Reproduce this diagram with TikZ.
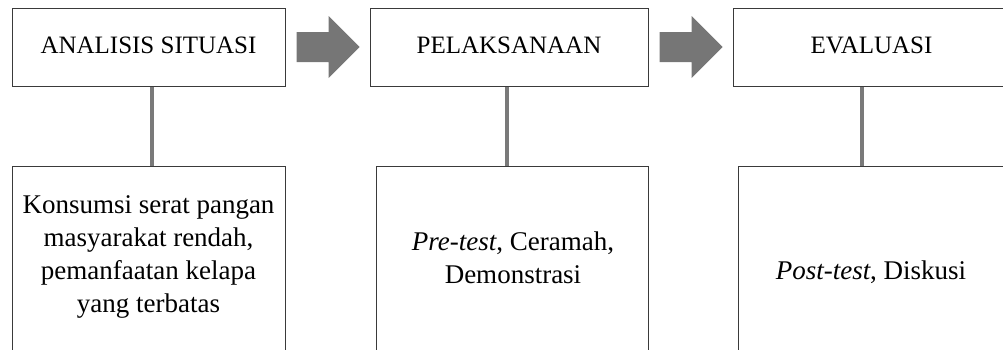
\documentclass[tikz,border=0pt]{standalone}
\usepackage{fontspec}
\setmainfont{Liberation Serif}
\usetikzlibrary{calc}
\definecolor{boxline}{HTML}{3A3A3A}
\definecolor{conngray}{HTML}{7A7A7A}
\definecolor{arrgray}{HTML}{767676}
\tikzset{
  topbox/.style={draw=boxline, line width=1pt, fill=white, minimum height=78pt, inner sep=0pt,
    text height=17pt, text depth=5pt, font=\fontsize{25}{33}\selectfont},
  botbox/.style={draw=boxline, line width=1pt, fill=white, anchor=north, minimum height=260pt, inner sep=0pt},
  txt/.style={align=center, inner sep=0pt, font=\fontsize{27}{33}\selectfont},
  conn/.style={draw=conngray, line width=4.5pt},
  blockarrow/.style={fill=arrgray, draw=none}
}
\begin{document}
\begin{tikzpicture}[x=1pt,y=-1pt]
\useasboundingbox (0,0) rectangle (1003,349);
\clip (0,0) rectangle (1003,349);
% top boxes
\node[topbox, minimum width=273pt] (t1) at (148.5,47) {ANALISIS SITUASI};
\node[topbox, minimum width=278pt] (t2) at (509,47) {PELAKSANAAN};
\node[topbox, minimum width=277pt] (t3) at (871.5,47) {EVALUASI};
% bottom boxes
\node[botbox, minimum width=273pt] (b1) at (148.5,166) {};
\node[botbox, minimum width=272pt] (b2) at (512,166) {};
\node[botbox, minimum width=277pt] (b3) at (876.5,166) {};
% bottom texts
\node[txt] (x1) at (148.5,257) {Konsumsi serat pangan\\masyarakat rendah,\\pemanfaatan kelapa\\yang terbatas};
\node[txt] (x2) at (513,258) {\textit{Pre-test}, Ceramah,\\Demonstrasi};
\node[txt] (x3) at (871,272) {\textit{Post-test}, Diskusi};
% connectors
\draw[conn] ([xshift=3.5pt]t1.south) -- ([xshift=3.5pt]t1.south |- b1.north);
\draw[conn] ([xshift=-2pt]t2.south) -- ([xshift=-2pt]t2.south |- b2.north);
\draw[conn] ([xshift=-9.5pt]t3.south) -- ([xshift=-9.5pt]t3.south |- b3.north);
% block arrows
\fill[blockarrow] ($(t1.east)+(11,-15)$) -- ($(t1.east)+(43,-15)$) -- ($(t1.east)+(43,-31)$)
  -- ($(t1.east)+(74,0)$) -- ($(t1.east)+(43,31)$) -- ($(t1.east)+(43,15)$) -- ($(t1.east)+(11,15)$) -- cycle;
\fill[blockarrow] ($(t2.east)+(11,-15)$) -- ($(t2.east)+(43,-15)$) -- ($(t2.east)+(43,-31)$)
  -- ($(t2.east)+(74,0)$) -- ($(t2.east)+(43,31)$) -- ($(t2.east)+(43,15)$) -- ($(t2.east)+(11,15)$) -- cycle;
\end{tikzpicture}
\end{document}
